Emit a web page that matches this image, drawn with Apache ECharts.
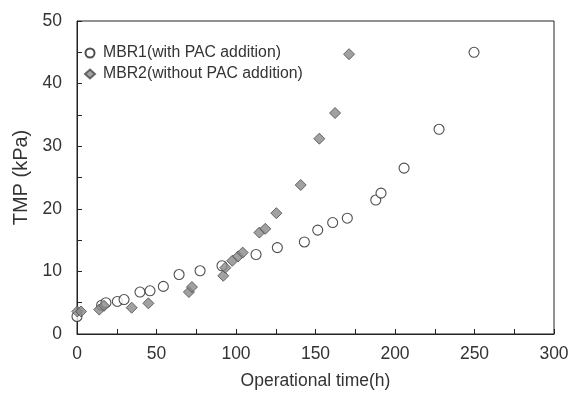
<!DOCTYPE html>
<html>
<head>
<meta charset="utf-8">
<script src="https://cdn.jsdelivr.net/npm/echarts@6/dist/echarts.min.js"></script>
<style>html,body{margin:0;padding:0;background:#fff}#c{width:568px;height:393px}</style>
</head>
<body>
<div id="c"></div>
<script>
var mbr1Time = [0, 15.5, 18.2, 25.4, 29.6, 39.6, 45.9, 54.3, 64.2, 77.4, 91.2, 112.6, 126, 143, 151.4, 160.8, 170, 187.9, 191.2, 205.7, 227.7, 249.7];
var mbr1TMP  = [2.8, 4.6, 5.0, 5.2, 5.5, 6.7, 6.9, 7.6, 9.5, 10.1, 10.9, 12.7, 13.8, 14.7, 16.6, 17.8, 18.5, 21.4, 22.5, 26.5, 32.7, 45.0];
var mbr2Time = [0.2, 2.5, 14, 17, 34.4, 44.9, 70.4, 72.3, 92, 93.3, 97.7, 101.3, 104.2, 114.7, 118.4, 125.4, 140.7, 152.4, 162.3, 171.1];
var mbr2TMP  = [3.6, 3.6, 3.9, 4.5, 4.2, 4.9, 6.7, 7.5, 9.3, 10.6, 11.7, 12.4, 13.0, 16.2, 16.8, 19.3, 23.8, 31.2, 35.3, 44.7];
var seriesNames = ['MBR1(with PAC addition)', 'MBR2(without PAC addition)'];

function pairs(xs, ys) { return xs.map(function (x, i) { return [x, ys[i]]; }); }

var font = 'Liberation Sans, Arial, sans-serif';
var chart = echarts.init(document.getElementById('c'), null, {renderer: 'canvas'});
chart.setOption({
  animation: false,
  backgroundColor: '#fff',
  grid: {left: 77, right: 14, top: 21, bottom: 59, outerBoundsMode: 'none', containLabel: false,
    show: true, borderColor: '#222', borderWidth: 1, backgroundColor: 'transparent'},
  legend: {
    orient: 'vertical', left: 79, top: 40, itemGap: 5, itemWidth: 10, itemHeight: 9,
    textStyle: {fontFamily: font, fontSize: 15.8, lineHeight: 16, color: '#333', padding: [0, 0, 0, 3]},
    data: [{name: seriesNames[0], icon: 'circle'}, {name: seriesNames[1], icon: 'diamond'}]
  },
  xAxis: {
    type: 'value', min: 0, max: 300, interval: 25,
    name: 'Operational time(h)', nameLocation: 'middle', nameGap: 38,
    nameTextStyle: {fontFamily: font, fontSize: 17.5, color: '#333'},
    axisLine: {lineStyle: {color: '#222'}},
    axisTick: {inside: true, length: 5, lineStyle: {color: '#222'}},
    axisLabel: {fontFamily: font, fontSize: 17.5, color: '#333', margin: 11,
      formatter: function (v) { return v % 50 === 0 ? String(v) : ''; }},
    splitLine: {show: false}
  },
  yAxis: {
    type: 'value', min: 0, max: 50, interval: 5,
    name: 'TMP (kPa)', nameLocation: 'middle', nameGap: 46,
    nameTextStyle: {fontFamily: font, fontSize: 20, color: '#333'},
    axisLine: {show: true, lineStyle: {color: '#222'}},
    axisTick: {show: true, inside: true, length: 5, lineStyle: {color: '#222'}},
    axisLabel: {fontFamily: font, fontSize: 17.5, color: '#333', margin: 15,
      formatter: function (v) { return v % 10 === 0 ? String(v) : ''; }},
    splitLine: {show: false}
  },
  series: [
    {name: seriesNames[0], type: 'scatter', symbol: 'circle', symbolSize: 10,
      itemStyle: {color: '#fff', borderColor: '#222', borderWidth: 1.1},
      data: pairs(mbr1Time, mbr1TMP)},
    {name: seriesNames[1], type: 'scatter', symbol: 'diamond', symbolSize: 11,
      itemStyle: {color: '#8a8a8a', borderColor: '#4a4a4a', borderWidth: 1},
      data: pairs(mbr2Time, mbr2TMP)}
  ]
});
</script>
</body>
</html>
